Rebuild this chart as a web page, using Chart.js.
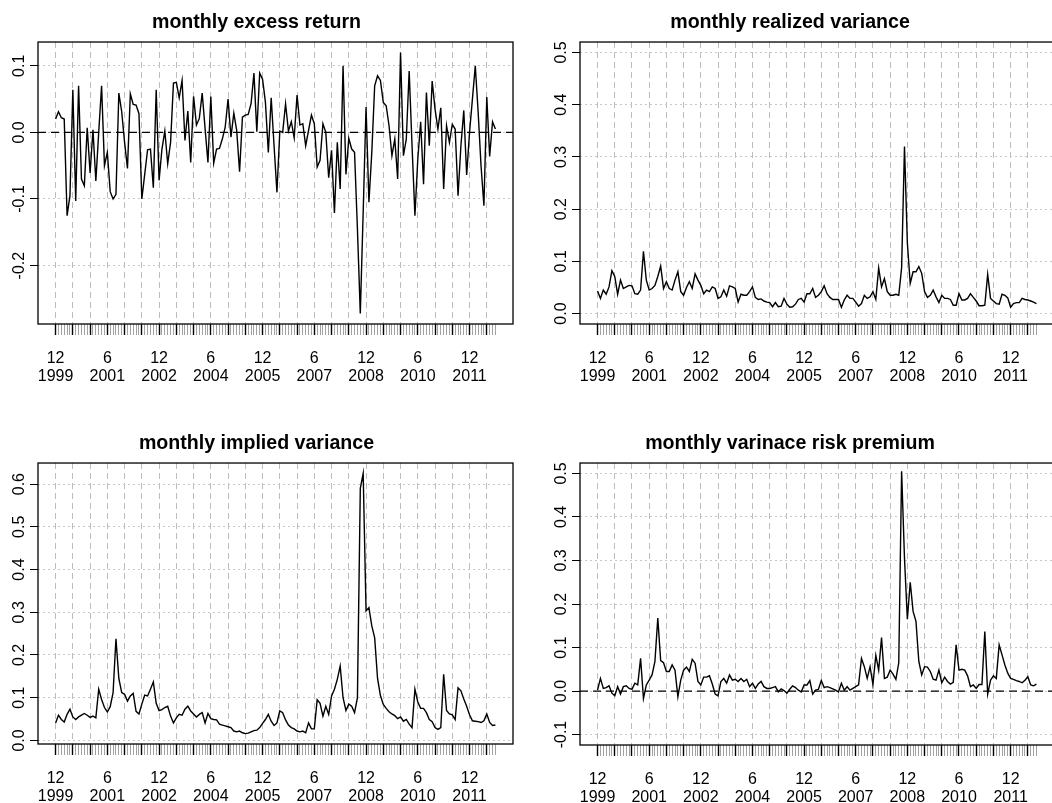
<!DOCTYPE html>
<html>
<head>
<meta charset="utf-8">
<script src="https://cdn.jsdelivr.net/npm/chart.js@4.4.0/dist/chart.umd.min.js"></script>
<style>
  html, body { margin: 0; padding: 0; background: #fff; overflow: hidden; }
  body { width: 1052px; height: 803px; position: relative; }
  canvas { position: absolute; }
</style>
</head>
<body>
<canvas id="c1" width="526" height="400" style="left:0;top:0"></canvas>
<canvas id="c2" width="532" height="400" style="left:526px;top:0"></canvas>
<canvas id="c3" width="526" height="403" style="left:0;top:400px"></canvas>
<canvas id="c4" width="532" height="403" style="left:526px;top:400px"></canvas>
<script>
// monthly observations, 12/1999 .. 9/2012
const excessReturn = [
  0.020, 0.031, 0.022, 0.020, -0.125, -0.095, 0.064, -0.103, 0.070, -0.070,
  -0.080, 0.007, -0.061, 0.004, -0.073, 0.000, 0.070, -0.050, -0.030, -0.089,
  -0.100, -0.093, 0.059, 0.031, -0.015, -0.054, 0.058, 0.042, 0.041, 0.028,
  -0.100, -0.063, -0.026, -0.025, -0.083, 0.064, -0.072, -0.025, 0.002, -0.047,
  -0.015, 0.074, 0.075, 0.052, 0.078, -0.012, 0.032, -0.045, 0.054, 0.011,
  0.021, 0.059, 0.006, -0.045, 0.054, -0.046, -0.025, -0.024, -0.010, 0.008,
  0.050, -0.007, 0.029, 0.003, -0.059, 0.023, 0.026, 0.027, 0.043, 0.089,
  0.001, 0.089, 0.080, 0.045, -0.030, 0.052, -0.020, -0.090, 0.002, 0.000,
  0.043, 0.002, 0.016, -0.008, 0.056, 0.011, 0.013, -0.020, 0.003, 0.026,
  0.013, -0.052, -0.042, 0.013, 0.000, -0.068, -0.027, -0.121, -0.015, -0.085,
  0.100, -0.063, -0.009, -0.025, -0.030, -0.145, -0.272, -0.120, 0.038, -0.105,
  -0.030, 0.070, 0.085, 0.078, 0.045, 0.040, 0.010, -0.035, -0.010, -0.070,
  0.120, -0.035, -0.010, 0.092, -0.020, -0.125, -0.040, 0.016, -0.078, 0.060,
  -0.020, 0.077, 0.035, 0.005, 0.037, -0.085, 0.010, -0.015, 0.012, 0.005,
  -0.095, -0.020, 0.033, -0.064, 0.000, 0.050, 0.100, 0.030, -0.050, -0.110,
  0.053, -0.036, 0.016, 0.005
];
const realizedVar = [
  0.043, 0.029, 0.045, 0.037, 0.051, 0.082, 0.071, 0.037, 0.064, 0.048,
  0.051, 0.054, 0.053, 0.038, 0.037, 0.045, 0.119, 0.064, 0.045, 0.048,
  0.054, 0.071, 0.091, 0.048, 0.061, 0.048, 0.045, 0.064, 0.080, 0.042,
  0.035, 0.050, 0.061, 0.048, 0.076, 0.064, 0.054, 0.038, 0.045, 0.042,
  0.051, 0.048, 0.029, 0.032, 0.045, 0.033, 0.053, 0.051, 0.048, 0.022,
  0.037, 0.035, 0.035, 0.042, 0.051, 0.031, 0.027, 0.028, 0.024, 0.022,
  0.021, 0.013, 0.021, 0.013, 0.014, 0.029, 0.018, 0.012, 0.013, 0.018,
  0.027, 0.029, 0.022, 0.038, 0.038, 0.048, 0.031, 0.035, 0.042, 0.053,
  0.038, 0.031, 0.027, 0.027, 0.027, 0.012, 0.026, 0.035, 0.029, 0.029,
  0.022, 0.014, 0.019, 0.035, 0.029, 0.032, 0.042, 0.027, 0.087, 0.051,
  0.067, 0.042, 0.035, 0.035, 0.037, 0.035, 0.088, 0.320, 0.135, 0.058,
  0.080, 0.080, 0.090, 0.077, 0.042, 0.031, 0.035, 0.045, 0.032, 0.021,
  0.035, 0.029, 0.029, 0.027, 0.016, 0.016, 0.038, 0.026, 0.026, 0.029,
  0.038, 0.031, 0.024, 0.015, 0.015, 0.016, 0.075, 0.029, 0.024, 0.019,
  0.018, 0.037, 0.035, 0.030, 0.012, 0.019, 0.021, 0.021, 0.029, 0.027,
  0.026, 0.024, 0.022, 0.019
];
const impliedVar = [
  0.041, 0.059, 0.049, 0.043, 0.061, 0.073, 0.055, 0.049, 0.055, 0.059,
  0.063, 0.059, 0.054, 0.057, 0.053, 0.120, 0.096, 0.077, 0.067, 0.079,
  0.112, 0.238, 0.145, 0.112, 0.108, 0.092, 0.104, 0.110, 0.068, 0.062,
  0.085, 0.106, 0.104, 0.120, 0.137, 0.087, 0.070, 0.072, 0.077, 0.080,
  0.057, 0.041, 0.053, 0.061, 0.059, 0.073, 0.080, 0.069, 0.062, 0.055,
  0.061, 0.065, 0.041, 0.063, 0.051, 0.049, 0.048, 0.038, 0.036, 0.034,
  0.032, 0.030, 0.022, 0.020, 0.022, 0.018, 0.016, 0.017, 0.020, 0.023,
  0.024, 0.030, 0.040, 0.049, 0.061, 0.045, 0.035, 0.041, 0.069, 0.065,
  0.048, 0.036, 0.030, 0.027, 0.022, 0.020, 0.022, 0.018, 0.041, 0.027,
  0.027, 0.095, 0.087, 0.057, 0.080, 0.061, 0.104, 0.120, 0.143, 0.174,
  0.100, 0.070, 0.085, 0.080, 0.065, 0.100, 0.590, 0.625, 0.303, 0.311,
  0.268, 0.240, 0.145, 0.105, 0.084, 0.075, 0.067, 0.062, 0.058, 0.051,
  0.055, 0.045, 0.049, 0.038, 0.030, 0.120, 0.090, 0.075, 0.075, 0.065,
  0.049, 0.044, 0.030, 0.026, 0.030, 0.155, 0.070, 0.062, 0.060, 0.049,
  0.123, 0.116, 0.097, 0.080, 0.060, 0.046, 0.045, 0.044, 0.042, 0.046,
  0.062, 0.042, 0.035, 0.036
];
const varPremium = [
  0.002, 0.029, 0.006, 0.008, 0.012, -0.005, -0.011, 0.010, -0.007, 0.010,
  0.012, 0.006, 0.004, 0.018, 0.014, 0.075, -0.017, 0.014, 0.025, 0.037,
  0.068, 0.168, 0.070, 0.065, 0.045, 0.045, 0.060, 0.048, -0.013, 0.025,
  0.048, 0.055, 0.045, 0.073, 0.064, 0.022, 0.014, 0.032, 0.032, 0.035,
  0.016, -0.007, -0.011, 0.022, 0.029, 0.018, 0.037, 0.025, 0.027, 0.022,
  0.029, 0.022, 0.027, 0.010, 0.018, 0.006, 0.016, 0.022, 0.010, 0.006,
  0.006, 0.008, 0.010, -0.002, 0.005, 0.001, -0.005, 0.004, 0.012, 0.008,
  0.002, -0.002, 0.014, 0.014, 0.024, -0.007, 0.002, 0.004, 0.024, 0.008,
  0.010, 0.008, 0.005, 0.002, -0.002, 0.018, 0.002, 0.010, 0.002, 0.006,
  0.010, 0.014, 0.075, 0.056, 0.029, 0.056, 0.015, 0.082, 0.048, 0.123,
  0.029, 0.032, 0.048, 0.039, 0.027, 0.065, 0.505, 0.305, 0.165, 0.250,
  0.183, 0.160, 0.068, 0.037, 0.056, 0.055, 0.045, 0.027, 0.025, 0.048,
  0.019, 0.032, 0.022, 0.016, 0.020, 0.106, 0.048, 0.050, 0.048, 0.035,
  0.010, 0.014, 0.006, 0.015, 0.015, 0.137, -0.007, 0.025, 0.035, 0.029,
  0.106, 0.083, 0.060, 0.041, 0.029, 0.027, 0.024, 0.022, 0.019, 0.025,
  0.033, 0.014, 0.012, 0.016
];

// x axis: month index 0 = 12/1999, labelled every 18 months
const tickIdx = [0, 18, 36, 54, 72, 90, 108, 126, 144];
const tickLabels = [['12', '1999'], ['6', '2001'], ['12', '2002'], ['6', '2004'], ['12', '2005'],
                    ['6', '2007'], ['12', '2008'], ['6', '2010'], ['12', '2011']];

const yTicksReturn = [-0.2, -0.1, 0.0, 0.1];
const yTicksRealized = [0.0, 0.1, 0.2, 0.3, 0.4, 0.5];
const yTicksImplied = [0.0, 0.1, 0.2, 0.3, 0.4, 0.5, 0.6];
const yTicksPremium = [-0.1, 0.0, 0.1, 0.2, 0.3, 0.4, 0.5];

const FONT = "'Liberation Sans', Arial, Helvetica, sans-serif";
const nObs = excessReturn.length;
const span = nObs - 1;
const xMin = -0.04 * span, xMax = span * 1.04;
const labelAt = {};
tickIdx.forEach((k, j) => { labelAt[k] = tickLabels[j]; });
const monthIdx = Array.from({ length: nObs }, (_, i) => i);

function padRange(lo, hi) {
  const p = 0.04 * (hi - lo);
  return [lo - p, hi + p];
}

// plain frame round the plot region, like R's box()
const boxPlugin = {
  id: 'box',
  afterDraw(chart) {
    const { ctx, chartArea: a } = chart;
    ctx.save();
    ctx.setLineDash([]);
    ctx.strokeStyle = '#000';
    ctx.lineWidth = 1.3;
    ctx.strokeRect(a.left, a.top, a.right - a.left, a.bottom - a.top);
    ctx.restore();
  }
};

function makePanel(id, title, values, yTicks, yRange, zeroLine, g) {
  const datasets = [{
    data: values.map((v, i) => ({ x: i, y: v })),
    borderColor: '#000',
    borderWidth: 1.4,
    pointRadius: 0,
    tension: 0,
    order: 1
  }];
  if (zeroLine) {
    datasets.push({
      data: [{ x: xMin, y: 0 }, { x: xMax, y: 0 }],
      borderColor: '#000',
      borderWidth: 1.2,
      borderDash: [8, 5],
      pointRadius: 0,
      order: 2
    });
  }
  new Chart(document.getElementById(id), {
    type: 'line',
    data: { datasets },
    plugins: [boxPlugin],
    options: {
      responsive: false,
      animation: false,
      devicePixelRatio: 1,
      layout: { padding: { left: 0, right: g.right, top: 0, bottom: 0 } },
      plugins: {
        legend: { display: false },
        tooltip: { enabled: false },
        title: {
          display: true,
          text: title,
          color: '#000',
          font: { family: FONT, size: 19.6, weight: 'bold', lineHeight: 1.2 },
          padding: { top: g.titleTop, bottom: g.titleBottom }
        }
      },
      scales: {
        x: {
          type: 'linear',
          min: xMin,
          max: xMax,
          afterBuildTicks: s => { s.ticks = monthIdx.map(v => ({ value: v })); },
          afterFit: s => { s.height = g.axisH; },
          grid: {
            color: c => (c.tick && c.tick.value % 6 === 0) ? '#bdbdbd' : 'rgba(0,0,0,0)',
            lineWidth: 1,
            drawTicks: true,
            tickLength: 11,
            tickColor: c => (c.tick && c.tick.value % 6 === 0) ? '#000' : '#8a8a8a',
            tickWidth: c => (c.tick && c.tick.value % 6 === 0) ? 1.4 : 0.8
          },
          border: { display: false, dash: [6, 4] },
          ticks: {
            autoSkip: false,
            maxRotation: 0,
            minRotation: 0,
            padding: 15,
            color: '#000',
            font: { family: FONT, size: 16, lineHeight: 1.1 },
            callback: v => labelAt[v] || ''
          }
        },
        y: {
          min: yRange[0],
          max: yRange[1],
          afterBuildTicks: s => { s.ticks = yTicks.map(v => ({ value: v })); },
          afterFit: s => { s.width = g.axisW; },
          grid: {
            color: '#c8c8c8',
            lineWidth: 1,
            drawTicks: true,
            tickLength: 8,
            tickColor: '#000',
            tickWidth: 1
          },
          border: { display: false, dash: [2, 3] },
          ticks: {
            padding: g.yPad,
            minRotation: 90,
            maxRotation: 90,
            crossAlign: 'center',
            color: '#000',
            font: { family: FONT, size: 16 },
            callback: v => v.toFixed(1)
          }
        }
      }
    }
  });
}

const retRange = padRange(Math.min(...excessReturn), Math.max(...excessReturn));
const ivRange = padRange(Math.min(...impliedVar), Math.max(...impliedVar));

makePanel('c1', 'monthly excess return', excessReturn, yTicksReturn, retRange, true,
  { axisW: 38, right: 13, titleTop: 10.5, titleBottom: 8, axisH: 76, yPad: -3.5 });
makePanel('c2', 'monthly realized variance', realizedVar, yTicksRealized, padRange(0, 0.5), false,
  { axisW: 54, right: 4, titleTop: 10.5, titleBottom: 8, axisH: 76, yPad: -1 });
makePanel('c3', 'monthly implied variance', impliedVar, yTicksImplied, ivRange, false,
  { axisW: 38, right: 13, titleTop: 31.5, titleBottom: 8, axisH: 59, yPad: -1 });
makePanel('c4', 'monthly varinace risk premium', varPremium, yTicksPremium, padRange(-0.1, 0.5), true,
  { axisW: 54, right: 4, titleTop: 31.5, titleBottom: 8, axisH: 58, yPad: -3 });
</script>
</body>
</html>
